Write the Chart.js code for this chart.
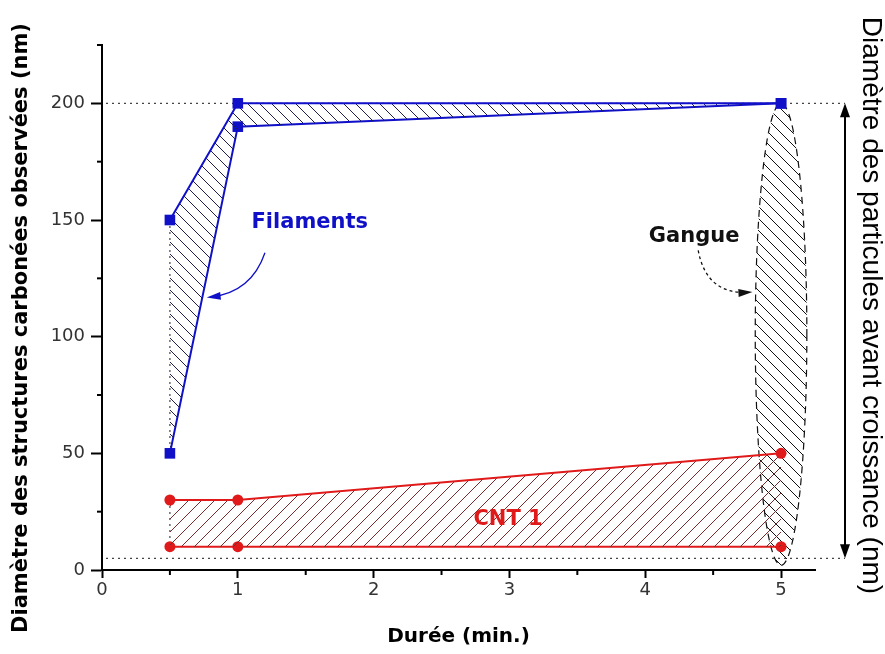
<!DOCTYPE html>
<html>
<head>
<meta charset="utf-8">
<script src="https://cdn.jsdelivr.net/npm/chart.js@4.4.1/dist/chart.umd.min.js"></script>
<style>
  html, body { margin: 0; padding: 0; background: #fff; }
</style>
</head>
<body>
<canvas id="myChart" width="885" height="654"></canvas>
<script>
// donnees
var durees = [0.5, 1, 5];
var filamentsMax = [150, 200, 200];
var filamentsMin = [50, 190, 200];
var cntMax = [30, 30, 50];
var cntMin = [10, 10, 10];
var xTicks = [0, 1, 2, 3, 4, 5];
var yTicks = [0, 50, 100, 150, 200];
var particulesMax = 200;
var particulesMin = 5;
// gangue : ellipse autour de 5 min
var gangueX = 5;
var gangueYMin = 2;
var gangueYMax = 200;
var gangueDemiLargeur = 0.19;

var BLEU = '#1010c8';
var ROUGE = '#e01a1a';
var GRAS = '"DejaVu Sans", "Liberation Sans", sans-serif';

function points(ys) {
    return durees.map(function (d, i) { return {x: d, y: ys[i]}; });
}

// motif hachure
function hachure(color, sens, pas, lw) {
    var c = document.createElement('canvas');
    c.width = pas; c.height = pas;
    var g = c.getContext('2d');
    g.strokeStyle = color;
    g.lineWidth = lw;
    for (var k = -1; k <= 2; k++) {
        g.beginPath();
        if (sens === '\\') {
            g.moveTo(0, k * pas); g.lineTo(pas, pas + k * pas);
        } else {
            g.moveTo(0, k * pas); g.lineTo(pas, k * pas - pas);
        }
        g.stroke();
    }
    return g.createPattern(c, 'repeat');
}

var ctx = document.getElementById('myChart').getContext('2d');
var hBleu = hachure('#202050', '\\', 12, 1);
var hRouge = hachure('#7a2b2b', '/', 13, 1);
var hNoir = hachure('#111', '\\', 12, 1);

function fleche(g, x0, y0, cx, cy, x1, y1, color, dash) {
    g.save();
    g.strokeStyle = color; g.fillStyle = color; g.lineWidth = 1.3;
    g.setLineDash(dash || []);
    g.beginPath(); g.moveTo(x0, y0); g.quadraticCurveTo(cx, cy, x1, y1); g.stroke();
    g.setLineDash([]);
    var a = Math.atan2(y1 - cy, x1 - cx);
    g.beginPath();
    g.moveTo(x1 + 4 * Math.cos(a), y1 + 4 * Math.sin(a));
    g.lineTo(x1 - 10 * Math.cos(a) + 4 * Math.sin(a), y1 - 10 * Math.sin(a) - 4 * Math.cos(a));
    g.lineTo(x1 - 10 * Math.cos(a) - 4 * Math.sin(a), y1 - 10 * Math.sin(a) + 4 * Math.cos(a));
    g.closePath(); g.fill();
    g.restore();
}

var decor = {
    id: 'decor',
    beforeDatasetsDraw: function (chart) {
        var g = chart.ctx, x = chart.scales.x, y = chart.scales.y, a = chart.chartArea;
        // gangue
        var cx = x.getPixelForValue(gangueX);
        var rx = x.getPixelForValue(gangueX + gangueDemiLargeur) - cx;
        var yt = y.getPixelForValue(gangueYMax), yb = y.getPixelForValue(gangueYMin);
        g.save();
        g.beginPath();
        g.ellipse(cx, (yt + yb) / 2, rx, (yb - yt) / 2, 0, 0, Math.PI * 2);
        g.fillStyle = hNoir; g.fill();
        g.setLineDash([7, 5]); g.strokeStyle = '#111'; g.lineWidth = 1.2; g.stroke();
        g.restore();
        // pointilles
        var xr = a.right + 30;
        g.save();
        g.strokeStyle = '#444'; g.lineWidth = 1.2; g.setLineDash([2, 4]);
        [particulesMax, particulesMin].forEach(function (v) {
            var py = y.getPixelForValue(v);
            g.beginPath(); g.moveTo(a.left + 4, py); g.lineTo(xr, py); g.stroke();
        });
        var px = x.getPixelForValue(durees[0]);
        g.beginPath();
        g.moveTo(px, y.getPixelForValue(filamentsMax[0])); g.lineTo(px, y.getPixelForValue(filamentsMin[0]));
        g.moveTo(px, y.getPixelForValue(cntMax[0])); g.lineTo(px, y.getPixelForValue(cntMin[0]));
        g.stroke();
        g.restore();
    },
    afterDraw: function (chart) {
        var g = chart.ctx, x = chart.scales.x, y = chart.scales.y, a = chart.chartArea;
        g.save();
        // petites graduations
        g.strokeStyle = '#000'; g.lineWidth = 2;
        [0.5, 1.5, 2.5, 3.5, 4.5].forEach(function (v) {
            var px = x.getPixelForValue(v);
            g.beginPath(); g.moveTo(px, a.bottom); g.lineTo(px, a.bottom + 5); g.stroke();
        });
        [25, 75, 125, 175, 225].forEach(function (v) {
            var py = y.getPixelForValue(v);
            g.beginPath(); g.moveTo(a.left, py); g.lineTo(a.left - 5, py); g.stroke();
        });
        // fleche droite
        var xr = a.right + 30;
        var y1 = y.getPixelForValue(particulesMax), y0 = y.getPixelForValue(particulesMin);
        g.lineWidth = 2;
        g.beginPath(); g.moveTo(xr, y1 + 10); g.lineTo(xr, y0 - 10); g.stroke();
        g.fillStyle = '#000';
        g.beginPath(); g.moveTo(xr, y1); g.lineTo(xr - 5, y1 + 14); g.lineTo(xr + 5, y1 + 14); g.closePath(); g.fill();
        g.beginPath(); g.moveTo(xr, y0); g.lineTo(xr - 5, y0 - 14); g.lineTo(xr + 5, y0 - 14); g.closePath(); g.fill();
        g.restore();

        // titre droit
        g.save();
        g.translate(a.right + 56, (a.top + a.bottom) / 2 - 2);
        g.rotate(Math.PI / 2);
        g.font = '28px "Liberation Sans", Arial, sans-serif';
        g.textAlign = 'center'; g.textBaseline = 'middle'; g.fillStyle = '#000';
        g.fillText('Diamètre des particules avant croissance (nm)', 0, 0);
        g.restore();

        // titre gauche
        g.save();
        g.translate(22, 328);
        g.rotate(-Math.PI / 2);
        g.font = 'bold 21px ' + GRAS;
        g.textAlign = 'center'; g.textBaseline = 'middle'; g.fillStyle = '#000';
        g.fillText('Diamètre des structures carbonées observées (nm)', 0, 0);
        g.restore();

        // etiquettes
        g.save();
        g.font = 'bold 21px ' + GRAS;
        g.textAlign = 'center'; g.textBaseline = 'middle';
        g.fillStyle = BLEU; g.fillText('Filaments', x.getPixelForValue(1.53), y.getPixelForValue(149));
        g.fillStyle = '#111'; g.fillText('Gangue', x.getPixelForValue(4.36), y.getPixelForValue(143));
        g.fillStyle = ROUGE; g.fillText('CNT 1', x.getPixelForValue(2.99), y.getPixelForValue(21.5));
        g.restore();
        fleche(g, x.getPixelForValue(1.2), y.getPixelForValue(136), x.getPixelForValue(1.1), y.getPixelForValue(119),
            x.getPixelForValue(0.8), y.getPixelForValue(117), BLEU);
        fleche(g, x.getPixelForValue(4.39), y.getPixelForValue(137), x.getPixelForValue(4.45), y.getPixelForValue(118),
            x.getPixelForValue(4.76), y.getPixelForValue(119), '#111', [3, 3]);
    }
};

var chart = new Chart(ctx, {
    type: 'scatter',
    data: {
        datasets: [{
            data: points(filamentsMax),
            showLine: true, borderColor: BLEU, borderWidth: 2,
            pointStyle: 'rect', pointRadius: 7.5, pointBackgroundColor: BLEU, pointBorderWidth: 0,
            backgroundColor: hBleu, fill: '+1'
        }, {
            data: points(filamentsMin),
            showLine: true, borderColor: BLEU, borderWidth: 2,
            pointStyle: 'rect', pointRadius: 7.5, pointBackgroundColor: BLEU, pointBorderWidth: 0,
            fill: false
        }, {
            data: points(cntMax),
            showLine: true, borderColor: ROUGE, borderWidth: 2,
            pointStyle: 'circle', pointRadius: 5.5, pointBackgroundColor: ROUGE, pointBorderWidth: 0,
            backgroundColor: hRouge, fill: '+1'
        }, {
            data: points(cntMin),
            showLine: true, borderColor: ROUGE, borderWidth: 2,
            pointStyle: 'circle', pointRadius: 5.5, pointBackgroundColor: ROUGE, pointBorderWidth: 0,
            fill: false
        }]
    },
    options: {
        responsive: false,
        animation: false,
        devicePixelRatio: 1,
        layout: { padding: { left: 0, right: 70, top: 45, bottom: 0 } },
        plugins: { legend: { display: false }, tooltip: { enabled: false } },
        scales: {
            x: {
                type: 'linear', min: 0, max: 5.25,
                afterBuildTicks: function (s) { s.ticks = xTicks.map(function (v) { return {value: v}; }); },
                afterFit: function (s) { s.height = 84; },
                border: { color: '#000', width: 2 },
                grid: { drawOnChartArea: false, drawTicks: true, tickLength: 8, color: '#000', tickWidth: 2 },
                ticks: { color: '#333', font: { size: 18, family: GRAS }, padding: 2 },
                title: { display: true, text: 'Durée (min.)', color: '#000',
                    font: { size: 20, weight: 'bold', family: GRAS }, padding: { top: 4, bottom: 5 } }
            },
            y: {
                type: 'linear', min: 0, max: 225,
                afterBuildTicks: function (s) { s.ticks = yTicks.map(function (v) { return {value: v}; }); },
                afterFit: function (s) { s.width = 102; },
                border: { color: '#000', width: 2 },
                grid: { drawOnChartArea: false, drawTicks: true, tickLength: 11, color: '#000', tickWidth: 2 },
                ticks: { color: '#333', font: { size: 18, family: GRAS }, padding: 6 },
                title: { display: false }
            }
        }
    },
    plugins: [decor]
});
</script>
</body>
</html>
